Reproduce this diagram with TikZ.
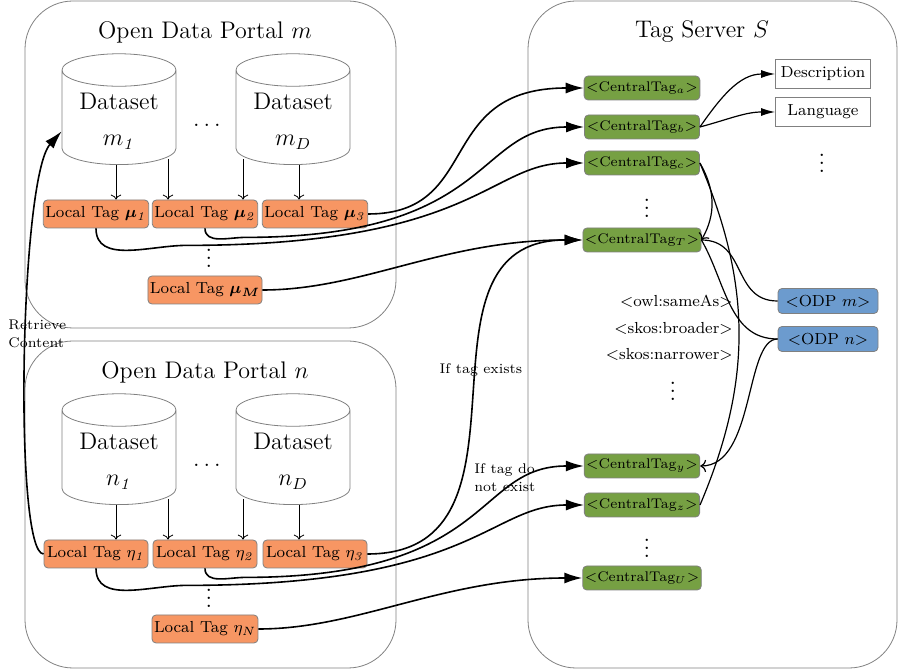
\documentclass[tikz,border=0pt]{standalone}
\usepackage{amsmath, amssymb, bm}
\usetikzlibrary{shapes.geometric, arrows.meta}

\definecolor{tagorange}{RGB}{247,150,99}
\definecolor{taggreen}{RGB}{118,160,67}
\definecolor{odpblue}{RGB}{108,155,206}

\begin{document}
\begin{tikzpicture}[x=0.5pt, y=0.5pt,
    portal/.style={draw=gray, rounded corners=24pt},
    portaltitle/.style={font=\large},
    dataset/.style={cylinder, shape border rotate=90, aspect=0.35, draw=gray,
      minimum width=57pt, minimum height=52.5pt, align=center, font=\large, anchor=south},
    localtag/.style={draw=gray, fill=tagorange, rounded corners=2pt, minimum width=52pt,
      minimum height=14pt, inner sep=1pt, font=\footnotesize},
    centraltag/.style={draw=gray, fill=taggreen, rounded corners=2pt, minimum width=57.5pt,
      minimum height=12pt, inner sep=1pt, font=\scriptsize},
    attrbox/.style={draw=gray, minimum width=47.5pt, minimum height=14.5pt, inner sep=1pt, font=\footnotesize},
    odpbox/.style={draw=gray, fill=odpblue, rounded corners=2pt, minimum width=50pt,
      minimum height=12.5pt, inner sep=1pt, font=\footnotesize},
    rellabel/.style={font=\footnotesize, anchor=east, inner sep=1pt},
    hint/.style={font=\scriptsize, align=left, inner sep=0pt},
    moredots/.style={inner sep=0pt, font=\large},
    feed/.style={thin, ->},
    link/.style={thick, -{Latex[length=9pt,width=5.5pt]}},
    attrlink/.style={semithick, -{Latex[length=7pt,width=4pt]}},
    rel/.style={semithick},
    relarrow/.style={semithick, ->}]
  \useasboundingbox (0,0) rectangle (921,669);

  % portals and tag server
  \draw[portal] (25,341) rectangle (396,668);
  \draw[portal] (25,1) rectangle (396,328);
  \draw[portal] (528,1) rectangle (897,668);
  \node[portaltitle] (portalm) at (205,637) {Open Data Portal $m$};
  \node[portaltitle] (portaln) at (205,297) {Open Data Portal $n$};
  \node[portaltitle] (server) at (702,637) {Tag Server $S$};

  % datasets
  \node[dataset] (dm1) at (119,504) {Dataset\\[4pt]$m_{\mathit{1}}$};
  \node[dataset] (dmD) at (293,504) {Dataset\\[4pt]$m_D$};
  \node[moredots] (hdotsm) at (207,544) {$\ldots$};
  \node[dataset] (dn1) at (119,164) {Dataset\\[4pt]$n_{\mathit{1}}$};
  \node[dataset] (dnD) at (293,164) {Dataset\\[4pt]$n_D$};
  \node[moredots] (hdotsn) at (207,204) {$\ldots$};

  % local tags
  \node[localtag] (mu1) at (96,455) {Local Tag $\bm{\mu}_{\mathit{1}}$};
  \node[localtag] (mu2) at (205,455) {Local Tag $\bm{\mu}_{\mathit{2}}$};
  \node[localtag] (mu3) at (315,455) {Local Tag $\bm{\mu}_{\mathit{3}}$};
  \node[moredots] (vdotsm) at (209,417) {$\vdots$};
  \node[localtag] (muM) at (205,379) {Local Tag $\bm{\mu_M}$};
  \node[localtag] (eta1) at (96,115) {Local Tag $\eta_{\mathit{1}}$};
  \node[localtag] (eta2) at (205,115) {Local Tag $\eta_{\mathit{2}}$};
  \node[localtag] (eta3) at (315,115) {Local Tag $\eta_{\mathit{3}}$};
  \node[moredots] (vdotsn) at (209,77) {$\vdots$};
  \node[localtag] (etaN) at (205,40) {Local Tag $\eta_N$};

  % central tags
  \node[centraltag] (cta) at (642,581) {<CentralTag$_a$>};
  \node[centraltag] (ctb) at (642,542) {<CentralTag$_b$>};
  \node[centraltag] (ctc) at (642,506) {<CentralTag$_c$>};
  \node[moredots] (vdotsct) at (647,467) {$\vdots$};
  \node[centraltag] (ctT) at (642,429) {<CentralTag$_T$>};
  \node[centraltag] (cty) at (642,203) {<CentralTag$_y$>};
  \node[centraltag] (ctz) at (642,164) {<CentralTag$_z$>};
  \node[moredots] (vdotscu) at (647,127) {$\vdots$};
  \node[centraltag] (ctU) at (642,91) {<CentralTag$_U$>};

  \node[attrbox] (desc) at (823,595) {Description};
  \node[attrbox] (lang) at (823,557) {Language};
  \node[moredots] (vdotsattr) at (822,512) {$\vdots$};
  \node[odpbox] (odpm) at (828,368) {<ODP $m$>};
  \node[odpbox] (odpn) at (828,330) {<ODP $n$>};
  \node[rellabel] (sameas) at (735,368) {<owl:sameAs>};
  \node[rellabel] (broader) at (735,341) {<skos:broader>};
  \node[rellabel] (narrower) at (735,315) {<skos:narrower>};
  \node[moredots] (vdotsrel) at (673,284) {$\vdots$};

  \node[hint, anchor=west] (retrieve) at (8,335) {Retrieve\\[1pt]Content};
  \node[hint] (exists) at (481,299) {If tag exists};
  \node[hint, anchor=west] (notexist) at (474,191) {If tag do\\[1pt]not exist};

  % datasets to local tags
  \draw[feed] ([xshift=-1.5pt]dm1.south) -- ([xshift=-1.5pt]dm1.south |- mu1.north);
  \draw[feed] ([xshift=24.5pt,yshift=3pt]dm1.south) -- ([xshift=24.5pt]dm1.south |- mu2.north);
  \draw[feed] ([xshift=-25pt,yshift=3pt]dmD.south) -- ([xshift=-25pt]dmD.south |- mu2.north);
  \draw[feed] ([xshift=3pt]dmD.south) -- ([xshift=3pt]dmD.south |- mu3.north);
  \draw[feed] ([xshift=-1.5pt]dn1.south) -- ([xshift=-1.5pt]dn1.south |- eta1.north);
  \draw[feed] ([xshift=24.5pt,yshift=3pt]dn1.south) -- ([xshift=24.5pt]dn1.south |- eta2.north);
  \draw[feed] ([xshift=-25pt,yshift=3pt]dnD.south) -- ([xshift=-25pt]dnD.south |- eta2.north);
  \draw[feed] ([xshift=3pt]dnD.south) -- ([xshift=3pt]dnD.south |- eta3.north);

  % local tags to central tags
  \draw[link] (mu3.east) .. controls +(115,0) and +(-150,0) .. (cta.west);
  \draw[link] (mu2.south) to[out=-90,in=180] ++(40,-9) .. controls +(250,0) and +(-110,0) .. (ctb.west);
  \draw[link] (mu1.south) to[out=-90,in=180] ++(90,-17) .. controls +(290,0) and +(-95,0) .. (ctc.west);
  \draw[link] (muM.east) .. controls +(100,0) and +(-140,0) .. (ctT.west);
  \draw[link] (eta3.east) .. controls +(185,0) and +(-185,0) .. (ctT.west);
  \draw[link] (eta2.south) to[out=-90,in=180] ++(40,-9) .. controls +(250,0) and +(-110,0) .. (cty.west);
  \draw[link] (eta1.south) to[out=-90,in=180] ++(90,-17) .. controls +(290,0) and +(-95,0) .. (ctz.west);
  \draw[link] (etaN.east) .. controls +(100,0) and +(-140,0) .. (ctU.west);
  \draw[link] (eta1.west) .. controls +(-30,0) and +(-42,-47) .. ([yshift=-5pt]dm1.west);

  % relations inside the tag server
  \draw[attrlink] (ctb.east) to[out=55,in=180] (desc.west);
  \draw[attrlink] (ctb.east) to[out=15,in=180] (lang.west);
  \draw[relarrow] (ctc.east) to[out=-60,in=60] (ctT.east);
  \draw[rel] (ctc.east) to[out=-67,in=67] (ctz.east);
  \draw[rel] (ctT.east) to[out=0,in=180,looseness=1.2] (odpm.west);
  \draw[rel] (ctT.east) to[out=-60,in=180] (odpn.west);
  \draw[relarrow] (odpn.west) .. controls +(-33,0) and +(55,0) .. (cty.east);
\end{tikzpicture}
\end{document}
